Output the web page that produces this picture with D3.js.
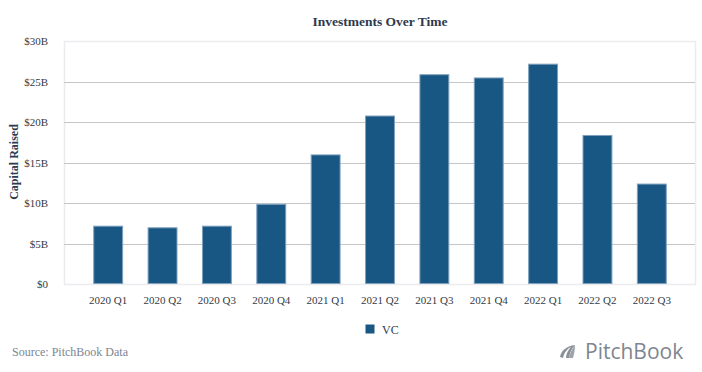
<!DOCTYPE html>
<html lang="en">
<head>
<meta charset="UTF-8">
<title>Investments Over Time</title>
<script src="https://d3js.org/d3.v7.min.js"></script>
<style>
    body { margin: 0; background: #ffffff; }
    svg { display: block; }
    .serif { font-family: "Liberation Serif", "Times New Roman", serif; }
</style>
</head>
<body>
<svg id="chart" width="702" height="372"></svg>
<script>
    // data (billions of USD)
    let quarters = ["2020 Q1", "2020 Q2", "2020 Q3", "2020 Q4", "2021 Q1", "2021 Q2",
                    "2021 Q3", "2021 Q4", "2022 Q1", "2022 Q2", "2022 Q3"]
    let vcValues = [7.2, 7.0, 7.2, 9.9, 16.0, 20.8, 25.9, 25.5, 27.2, 18.4, 12.4]
    let yTicks = [0, 5, 10, 15, 20, 25, 30]
    let seriesName = "VC"

    let svg = d3.select("#chart")
    let plot = {left: 64, right: 695, top: 41, bottom: 284}

    let x = d3.scaleBand()
        .domain(quarters)
        .range([81, 679])
        .paddingInner(0.45)
        .paddingOuter(0.225)

    let y = d3.scaleLinear()
        .domain([0, 30])
        .range([plot.bottom, plot.top])

    // plot frame
    svg.append("rect")
        .attr("x", plot.left + 0.5)
        .attr("y", plot.top + 0.5)
        .attr("width", plot.right - plot.left)
        .attr("height", plot.bottom - plot.top)
        .attr("fill", "none")
        .attr("stroke", "#ebebf0")
        .attr("stroke-width", 1.5)

    // gridlines
    svg.append("g")
        .selectAll("line")
        .data(yTicks.filter(d => d > 0 && d < 30))
        .join("line")
        .attr("x1", plot.left)
        .attr("x2", plot.right)
        .attr("y1", d => Math.round(y(d)) + 0.5)
        .attr("y2", d => Math.round(y(d)) + 0.5)
        .attr("stroke", "#c6c6c9")
        .attr("stroke-width", 1)

    // y axis
    let yAxis = svg.append("g")
        .attr("transform", "translate(" + plot.left + ",0)")
        .call(d3.axisLeft(y).tickValues(yTicks).tickSize(0).tickPadding(16)
            .tickFormat(d => d === 0 ? "$0" : "$" + d + "B"))
    yAxis.select(".domain").remove()
    yAxis.selectAll("text")
        .attr("class", "serif")
        .attr("font-size", "11px")
        .attr("fill", "#333a44")

    // x axis
    let xAxis = svg.append("g")
        .attr("transform", "translate(0," + plot.bottom + ")")
        .call(d3.axisBottom(x).tickSize(0).tickPadding(12))
    xAxis.select(".domain").remove()
    xAxis.selectAll("text")
        .attr("class", "serif")
        .attr("font-size", "11px")
        .attr("fill", "#333a44")

    // bars
    svg.append("g")
        .selectAll("rect")
        .data(vcValues)
        .join("rect")
        .attr("x", (d, i) => x(quarters[i]) + 0.5)
        .attr("y", d => y(d) + 0.5)
        .attr("width", x.bandwidth() - 1)
        .attr("height", d => y(0) - y(d) - 1)
        .attr("fill", "#185784")
        .attr("stroke", "#7fa0bd")
        .attr("stroke-width", 1)

    // title
    svg.append("text")
        .attr("class", "serif")
        .attr("x", 380)
        .attr("y", 26)
        .attr("text-anchor", "middle")
        .attr("font-size", "13.5px")
        .attr("font-weight", "bold")
        .attr("fill", "#2e3a4d")
        .text("Investments Over Time")

    // y label
    svg.append("text")
        .attr("class", "serif")
        .attr("transform", "translate(18,162) rotate(-90)")
        .attr("text-anchor", "middle")
        .attr("font-size", "12px")
        .attr("font-weight", "bold")
        .attr("fill", "#2e3a4d")
        .text("Capital Raised")

    // legend
    let legend = svg.append("g").attr("transform", "translate(365,324)")
    legend.append("rect")
        .attr("width", 10)
        .attr("height", 10)
        .attr("fill", "#185784")
        .attr("stroke", "#ffffff")
    legend.append("text")
        .attr("class", "serif")
        .attr("x", 17)
        .attr("y", 9.5)
        .attr("font-size", "12px")
        .attr("fill", "#333a44")
        .text(seriesName)

    // source
    svg.append("text")
        .attr("class", "serif")
        .attr("x", 12)
        .attr("y", 356)
        .attr("font-size", "12px")
        .attr("fill", "#7b8595")
        .text("Source: PitchBook Data")

    // logo
    let logo = svg.append("g").attr("transform", "translate(560,345)")
    logo.append("path")
        .attr("d", "M0,12 C1,6 6,1 15,0 C12,3 10,7 9,13 L6,13 C6,9 8,5 11,2 C7,4 4,8 3,13 Z")
        .attr("fill", "#8a9099")
    logo.append("path")
        .attr("d", "M9,13 C10,8 12,4 15,0 C15,5 14,9 13,13 Z")
        .attr("fill", "#9ea3ab")
    svg.append("text")
        .attr("x", 585)
        .attr("y", 359)
        .attr("font-family", "'Open Sans', 'DejaVu Sans', sans-serif")
        .attr("font-size", "21px")
        .attr("fill", "#80868f")
        .text("PitchBook")
</script>
</body>
</html>
